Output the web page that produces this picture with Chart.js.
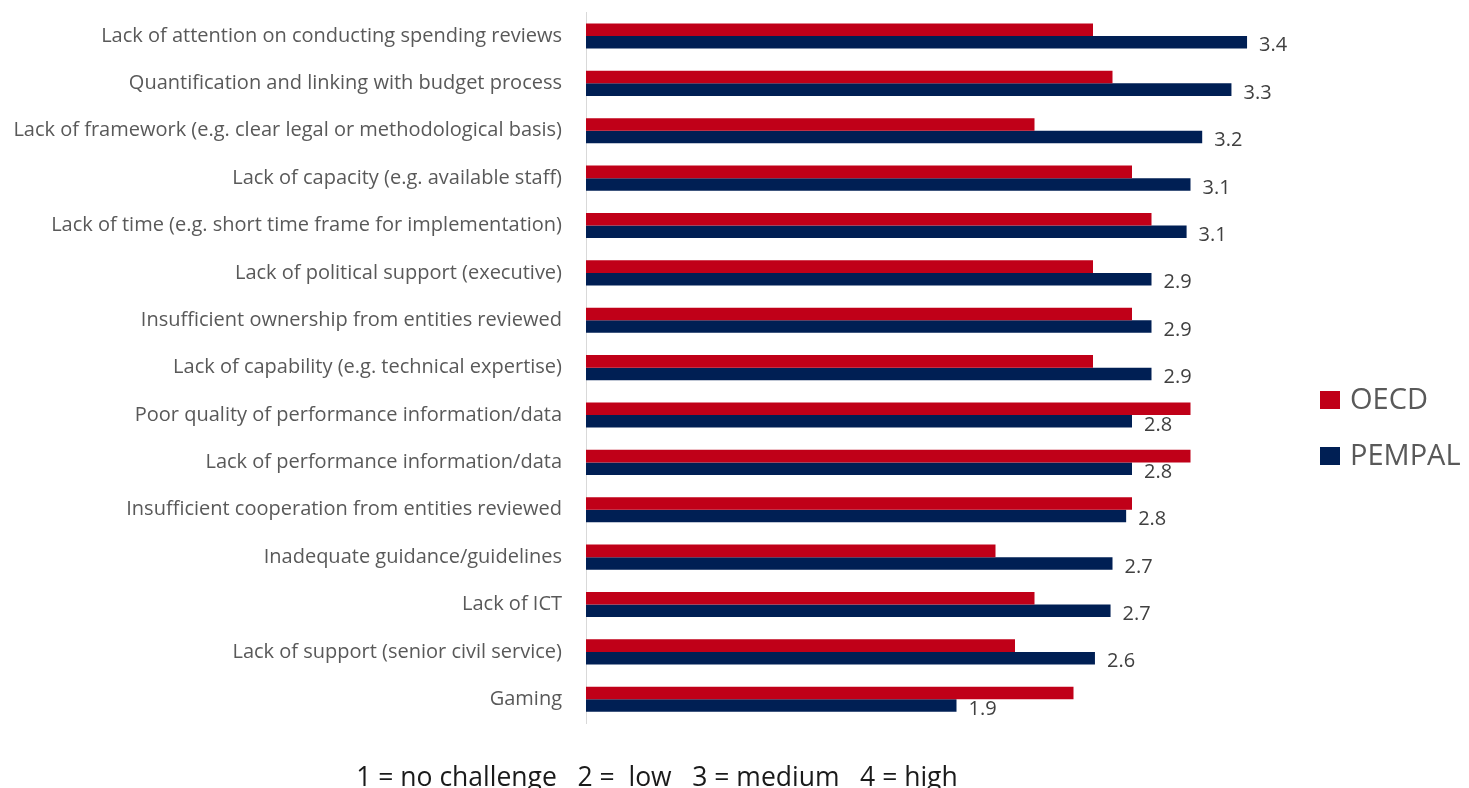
<!DOCTYPE html>
<html>
<head>
<meta charset="utf-8">
<script src="https://cdn.jsdelivr.net/npm/chart.js@4"></script>
<style>
  html, body { margin: 0; padding: 0; background: #fff; }
  #wrap { width: 1469px; height: 788px; position: relative; }
</style>
</head>
<body>
<div id="wrap"><canvas id="challengesChart"></canvas></div>
<script>
// categories, top to bottom
var categories = [
    'Lack of attention on conducting spending reviews',
    'Quantification and linking with budget process',
    'Lack of framework (e.g. clear legal or methodological basis)',
    'Lack of capacity (e.g. available staff)',
    'Lack of time (e.g. short time frame for implementation)',
    'Lack of political support (executive)',
    'Insufficient ownership from entities reviewed',
    'Lack of capability (e.g. technical expertise)',
    'Poor quality of performance information/data',
    'Lack of performance information/data',
    'Insufficient cooperation from entities reviewed',
    'Inadequate guidance/guidelines',
    'Lack of ICT',
    'Lack of support (senior civil service)',
    'Gaming'
];
var seriesNames = ['OECD', 'PEMPAL'];
var oecdValues = [2.6, 2.7, 2.3, 2.8, 2.9, 2.6, 2.8, 2.6, 3.1, 3.1, 2.8, 2.1, 2.3, 2.2, 2.5];
var pempalValues = [3.39, 3.31, 3.16, 3.1, 3.08, 2.9, 2.9, 2.9, 2.8, 2.8, 2.77, 2.7, 2.69, 2.61, 1.9];
var scaleNote = '1 = no challenge   2 =  low   3 = medium   4 = high';

document.addEventListener("DOMContentLoaded", function() {
    var ctx = document.getElementById('challengesChart').getContext('2d');

    // value labels next to the PEMPAL bars, legend and scale note
    var extrasPlugin = {
        id: 'extras',
        afterDatasetsDraw: function(chart) {
            var c = chart.ctx;
            var meta = chart.getDatasetMeta(1);
            c.save();
            c.font = '20px "Open Sans"';
            c.fillStyle = '#404040';
            c.textAlign = 'left';
            c.textBaseline = 'middle';
            meta.data.forEach(function(bar, i) {
                var v = chart.data.datasets[1].data[i];
                c.fillText(v.toFixed(1), bar.x + 12, bar.y + 3.5);
            });
            c.restore();
        },
        afterDraw: function(chart) {
            var c = chart.ctx;
            c.save();
            // legend
            c.font = '29px "Open Sans"';
            c.textBaseline = 'middle';
            c.textAlign = 'left';
            var tops = [391, 447];
            chart.data.datasets.forEach(function(ds, i) {
                c.fillStyle = ds.backgroundColor;
                c.fillRect(1320, tops[i], 20, 18);
                c.fillStyle = '#595959';
                c.fillText(ds.label, 1350, tops[i] + 9.5);
            });
            // note below the chart
            c.font = '26.5px "Open Sans"';
            c.fillStyle = '#1a1a1a';
            c.textAlign = 'center';
            c.textBaseline = 'alphabetic';
            c.fillText(scaleNote, 657, 786);
            c.restore();
        }
    };

    var chart = new Chart(ctx, {
        type: 'bar',
        data: {
            labels: categories,
            datasets: [
                {
                    label: seriesNames[0],
                    data: oecdValues,
                    backgroundColor: '#C00018',
                    categoryPercentage: 0.53,
                    barPercentage: 1.0
                },
                {
                    label: seriesNames[1],
                    data: pempalValues,
                    backgroundColor: '#001F54',
                    categoryPercentage: 0.53,
                    barPercentage: 1.0
                }
            ]
        },
        options: {
            indexAxis: 'y',
            responsive: true,
            maintainAspectRatio: false,
            animation: false,
            layout: {
                padding: { left: 8, right: 181, top: 12.3, bottom: 65 }
            },
            scales: {
                x: {
                    display: false,
                    min: 0,
                    max: 3.6
                },
                y: {
                    grid: { display: false, drawTicks: true, tickLength: 24 },
                    border: { display: true, color: '#d9d9d9', width: 1 },
                    ticks: {
                        padding: 0,
                        color: '#595959',
                        font: { family: 'Open Sans', size: 20, lineHeight: 1.2 }
                    },
                    afterFit: function(scale) {
                        scale.width = 578;
                    }
                }
            },
            plugins: {
                legend: { display: false },
                tooltip: { enabled: false }
            }
        },
        plugins: [extrasPlugin]
    });
});
</script>
</body>
</html>
